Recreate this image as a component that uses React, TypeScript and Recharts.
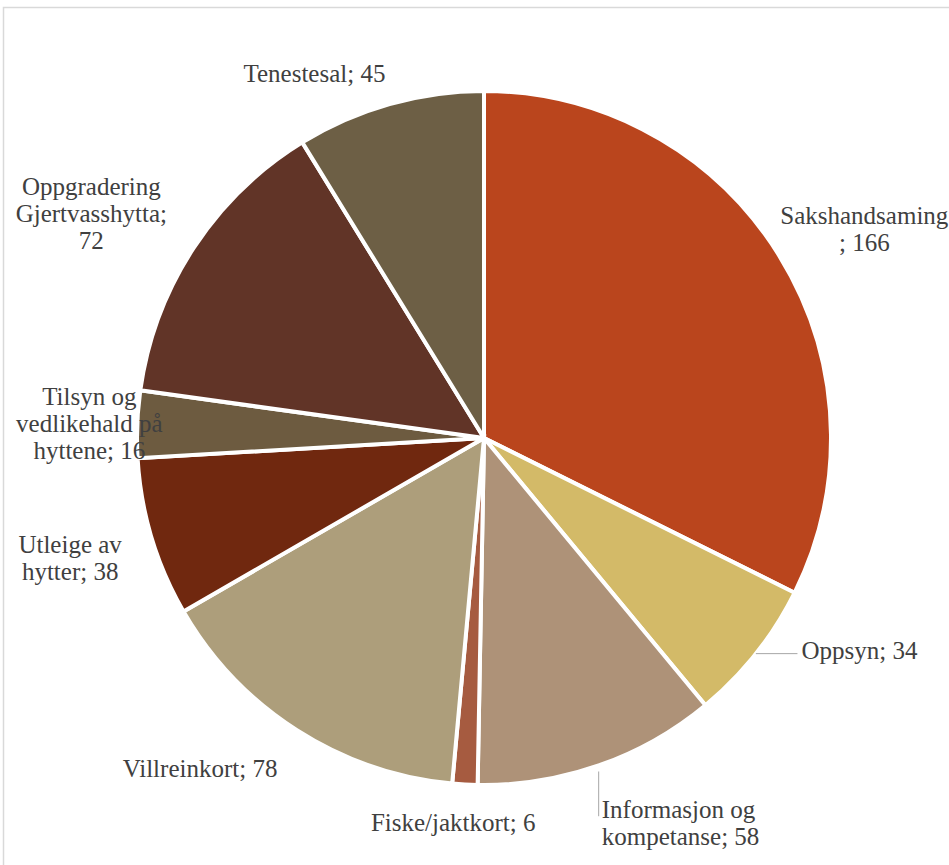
import React from "react";
import { PieChart, Pie, Cell } from "recharts";

const CATEGORIES = [
  "Sakshandsaming",
  "Oppsyn",
  "Informasjon og kompetanse",
  "Fiske/jaktkort",
  "Villreinkort",
  "Utleige av hytter",
  "Tilsyn og vedlikehald på hyttene",
  "Oppgradering Gjertvasshytta",
  "Tenestesal",
];
const VALUES = [166, 34, 58, 6, 78, 38, 16, 72, 45];
const COLORS = [
  "#BA451D",
  "#D3BA68",
  "#AE9278",
  "#A65B40",
  "#AD9E7B",
  "#70280F",
  "#6D5B40",
  "#613427",
  "#6D5F45",
];

// label layout: wrap width (chars), nudge from default polar anchor, anchor, leader
const LABEL_LAYOUT = [
  { wrap: 14, dx: 13, dy: 18, anchor: "middle", leader: "" },
  { wrap: 30, dx: -21, dy: -56, anchor: "start", leader: "h" },
  { wrap: 14, dx: -25, dy: -23, anchor: "start", leader: "v" },
  { wrap: 30, dx: -7, dy: -47, anchor: "middle", leader: "" },
  { wrap: 30, dx: -51, dy: -34, anchor: "middle", leader: "" },
  { wrap: 10, dx: 0, dy: -4, anchor: "middle", leader: "" },
  { wrap: 14, dx: 37, dy: 2, anchor: "middle", leader: "" },
  { wrap: 15, dx: -31, dy: 11, anchor: "middle", leader: "" },
  { wrap: 30, dx: -52, dy: 51, anchor: "middle", leader: "" },
];

const data = CATEGORIES.map((name, i) => ({ name, value: VALUES[i] }));

const W = 949;
const H = 865;
const CX = 484;
const CY = 438;
const R = 347;
const LABEL_R = 432;
const LINE_H = 27;
const FONT = "'Liberation Serif', 'Times New Roman', serif";

function wrapLabel(name: string, value: number, max: number): string[] {
  const words = name.split(" ");
  const lines: string[] = [];
  let cur = "";
  for (const w of words) {
    if (cur === "") cur = w;
    else if ((cur + " " + w).length <= max) cur = cur + " " + w;
    else {
      lines.push(cur);
      cur = w;
    }
  }
  const full = cur + "; " + value;
  if (full.length <= max) {
    lines.push(full);
  } else if ((cur + ";").length <= max) {
    lines.push(cur + ";");
    lines.push(String(value));
  } else {
    lines.push(cur);
    lines.push("; " + value);
  }
  return lines;
}

const RAD = Math.PI / 180;

function renderLabel(props: any) {
  const { cx, cy, midAngle, outerRadius, index, name, value } = props;
  const lay = LABEL_LAYOUT[index];
  const cosA = Math.cos(-midAngle * RAD);
  const sinA = Math.sin(-midAngle * RAD);
  const ax = cx + LABEL_R * cosA + lay.dx;
  const ay = cy + LABEL_R * sinA + lay.dy;
  const ex = cx + outerRadius * cosA;
  const ey = cy + outerRadius * sinA;
  const lines = wrapLabel(name, value, lay.wrap);
  const n = lines.length;
  let leader = null;
  if (lay.leader === "h") {
    leader = (
      <line x1={ex} y1={ey} x2={ax - 4} y2={ey} stroke="#A6A6A6" strokeWidth={1} />
    );
  } else if (lay.leader === "v") {
    const firstY = ay - ((n - 1) / 2) * LINE_H;
    leader = (
      <line x1={ex} y1={ey + 6} x2={ex} y2={firstY + 7} stroke="#A6A6A6" strokeWidth={1} />
    );
  }
  return (
    <g key={`lbl-${index}`}>
      {leader}
      <text
        x={ax}
        y={ay}
        textAnchor={lay.anchor}
        fill="#404040"
        fontFamily={FONT}
        fontSize={25}
        style={{ fontFamily: FONT, fontSize: 25 }}
        dominantBaseline="central"
      >
        {lines.map((l, i) => (
          <tspan key={i} x={ax} y={ay + (i - (n - 1) / 2) * LINE_H} style={{ fontFamily: FONT }}>
            {l}
          </tspan>
        ))}
      </text>
    </g>
  );
}

export default function App() {
  return (
    <div style={{ position: "absolute", left: 0, top: 0, width: W, height: H, background: "#fff", fontFamily: FONT }}>
      <svg
        width={W}
        height={H}
        style={{ position: "absolute", left: 0, top: 0, pointerEvents: "none" }}
      >
        <rect x={3.5} y={7.5} width={W + 20} height={H + 20} fill="none" stroke="#D9D9D9" strokeWidth={1.5} />
      </svg>
      <div style={{ position: "absolute", left: 0, top: 0 }}>
        <PieChart width={W} height={H} margin={{ top: 0, right: 0, bottom: 0, left: 0 }}>
          <Pie
            data={data}
            dataKey="value"
            nameKey="name"
            cx={CX}
            cy={CY}
            outerRadius={R}
            startAngle={90}
            endAngle={-270}
            stroke="#FFFFFF"
            strokeWidth={4}
            label={renderLabel}
            labelLine={false}
            isAnimationActive={false}
          >
            {data.map((d, i) => (
              <Cell key={d.name} fill={COLORS[i]} />
            ))}
          </Pie>
        </PieChart>
      </div>
    </div>
  );
}
